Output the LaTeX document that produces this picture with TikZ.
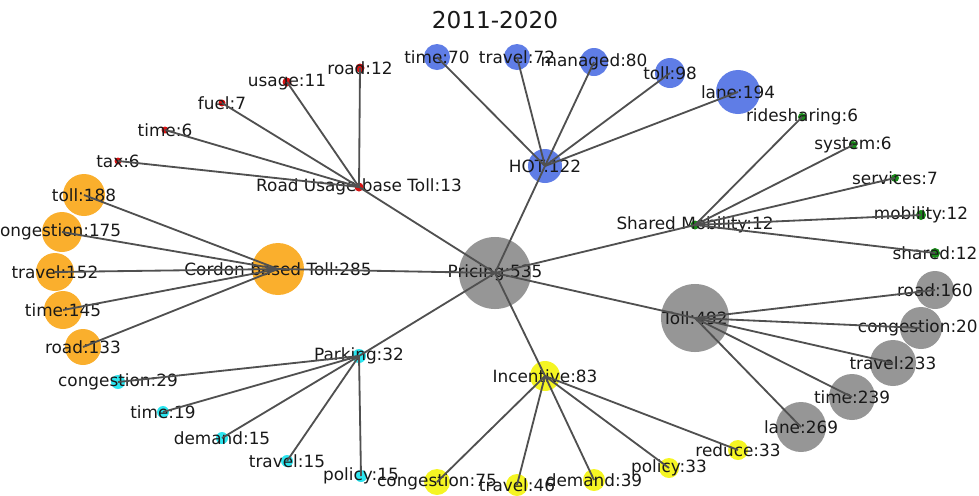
\documentclass[tikz,border=0pt]{standalone}
\usepackage{fontspec}
\setmainfont{DejaVu Sans}
\usepackage{tikz}
\usetikzlibrary{positioning}

\definecolor{hotblue}{RGB}{95,125,230}
\definecolor{cordonorange}{RGB}{250,175,45}
\definecolor{tollgray}{RGB}{150,150,150}
\definecolor{parkcyan}{RGB}{45,230,240}
\definecolor{incyellow}{RGB}{245,245,35}
\definecolor{sharegreen}{RGB}{25,140,25}
\definecolor{roadred}{RGB}{215,20,20}
\definecolor{edgegray}{RGB}{80,80,80}

\begin{document}
\begin{tikzpicture}[
        x=0.025cm, y=-0.025cm,
        term/.style={circle, inner sep=0pt, draw=none, fill=#1},
        rad/.style={minimum size=#1*0.05cm},
        lbl/.style={font=\fontsize{12}{14}\selectfont, text=black!90, inner sep=0pt},
        link/.style={draw=edgegray, line width=1.3pt}
    ]
        \useasboundingbox (0,0) rectangle (979,495);
        \clip (0,0) rectangle (979,495);

        \node[font=\fontsize{16.5}{19}\selectfont, text=black!90] (title) at (495,20) {2011-2020};

        % hubs
        \node[term=tollgray, rad=36, label={[lbl]center:{Pricing:535}}] (pricing) at (495,273) {};
        \node[term=cordonorange, rad=26, label={[lbl]center:{Cordon based Toll:285}}] (cordon) at (278,269) {};
        \node[term=roadred, rad=4.5, label={[lbl]center:{Road Usage base Toll:13}}] (usagebase) at (359,187) {};
        \node[term=hotblue, rad=17, label={[lbl]center:{HOT:122}}] (hot) at (545,166) {};
        \node[term=sharegreen, rad=4.5, label={[lbl]center:{Shared Mobility:12}}] (shared) at (695,225) {};
        \node[term=tollgray, rad=34, label={[lbl]center:{Toll:492}}] (toll) at (695,318) {};
        \node[term=parkcyan, rad=7, label={[lbl]center:{Parking:32}}] (parking) at (359,356) {};
        \node[term=incyellow, rad=15, label={[lbl]center:{Incentive:83}}] (incentive) at (545,376) {};

        % road usage terms
        \node[term=roadred, rad=4.5, label={[lbl]center:{road:12}}] (ru-road) at (360,68) {};
        \node[term=roadred, rad=4.5, label={[lbl]center:{usage:11}}] (ru-usage) at (287,82) {};
        \node[term=roadred, rad=3.5, label={[lbl]center:{fuel:7}}] (ru-fuel) at (222,103) {};
        \node[term=roadred, rad=3.5, label={[lbl]center:{time:6}}] (ru-time) at (165,130) {};
        \node[term=roadred, rad=3.5, label={[lbl]center:{tax:6}}] (ru-tax) at (118,161) {};

        % cordon terms
        \node[term=cordonorange, rad=21, label={[lbl]center:{toll:188}}] (co-toll) at (84,195) {};
        \node[term=cordonorange, rad=20, label={[lbl, xshift=-0.15cm]center:{congestion:175}}] (co-cong) at (62,232) {};
        \node[term=cordonorange, rad=19, label={[lbl]center:{travel:152}}] (co-travel) at (55,272) {};
        \node[term=cordonorange, rad=19, label={[lbl]center:{time:145}}] (co-time) at (63,310) {};
        \node[term=cordonorange, rad=18, label={[lbl]center:{road:133}}] (co-road) at (83,347) {};

        % HOT terms
        \node[term=hotblue, rad=13, label={[lbl]center:{time:70}}] (hot-time) at (437,57) {};
        \node[term=hotblue, rad=13, label={[lbl]center:{travel:72}}] (hot-travel) at (517,57) {};
        \node[term=hotblue, rad=14, label={[lbl]center:{managed:80}}] (hot-managed) at (594,62) {};
        \node[term=hotblue, rad=15, label={[lbl]center:{toll:98}}] (hot-toll) at (670,73) {};
        \node[term=hotblue, rad=22, label={[lbl]center:{lane:194}}] (hot-lane) at (738,92) {};

        % shared mobility terms
        \node[term=sharegreen, rad=4, label={[lbl]center:{ridesharing:6}}] (sm-ride) at (802,117) {};
        \node[term=sharegreen, rad=4, label={[lbl]center:{system:6}}] (sm-system) at (853,145) {};
        \node[term=sharegreen, rad=4, label={[lbl]center:{services:7}}] (sm-services) at (895,178) {};
        \node[term=sharegreen, rad=5, label={[lbl]center:{mobility:12}}] (sm-mobility) at (921,215) {};
        \node[term=sharegreen, rad=5, label={[lbl]center:{shared:12}}] (sm-shared) at (935,253) {};

        % toll terms
        \node[term=tollgray, rad=19, label={[lbl]center:{road:160}}] (to-road) at (935,290) {};
        \node[term=tollgray, rad=21, label={[lbl, xshift=-0.08cm]center:{congestion:20}}] (to-cong) at (921,328) {};
        \node[term=tollgray, rad=23, label={[lbl]center:{travel:233}}] (to-travel) at (893,363) {};
        \node[term=tollgray, rad=23, label={[lbl]center:{time:239}}] (to-time) at (852,397) {};
        \node[term=tollgray, rad=25, label={[lbl]center:{lane:269}}] (to-lane) at (801,427) {};

        % parking terms
        \node[term=parkcyan, rad=7, label={[lbl]center:{congestion:29}}] (pa-cong) at (118,382) {};
        \node[term=parkcyan, rad=6, label={[lbl]center:{time:19}}] (pa-time) at (163,412) {};
        \node[term=parkcyan, rad=6, label={[lbl]center:{demand:15}}] (pa-demand) at (222,438) {};
        \node[term=parkcyan, rad=6, label={[lbl]center:{travel:15}}] (pa-travel) at (287,461) {};
        \node[term=parkcyan, rad=6, label={[lbl]center:{policy:15}}] (pa-policy) at (361,476) {};

        % incentive terms
        \node[term=incyellow, rad=13, label={[lbl]center:{congestion:75}}] (in-cong) at (437,482) {};
        \node[term=incyellow, rad=11, label={[lbl]center:{travel:46}}] (in-travel) at (517,485) {};
        \node[term=incyellow, rad=11, label={[lbl]center:{demand:39}}] (in-demand) at (594,480) {};
        \node[term=incyellow, rad=10, label={[lbl]center:{policy:33}}] (in-policy) at (669,468) {};
        \node[term=incyellow, rad=10, label={[lbl]center:{reduce:33}}] (in-reduce) at (738,450) {};

        % edges
        \draw[link] (pricing.center) -- (cordon.center);
        \draw[link] (pricing.center) -- (usagebase.center);
        \draw[link] (pricing.center) -- (hot.center);
        \draw[link] (pricing.center) -- (shared.center);
        \draw[link] (pricing.center) -- (toll.center);
        \draw[link] (pricing.center) -- (parking.center);
        \draw[link] (pricing.center) -- (incentive.center);

        \draw[link] (usagebase.center) -- (ru-road.center);
        \draw[link] (usagebase.center) -- (ru-usage.center);
        \draw[link] (usagebase.center) -- (ru-fuel.center);
        \draw[link] (usagebase.center) -- (ru-time.center);
        \draw[link] (usagebase.center) -- (ru-tax.center);

        \draw[link] (cordon.center) -- (co-toll.center);
        \draw[link] (cordon.center) -- (co-cong.center);
        \draw[link] (cordon.center) -- (co-travel.center);
        \draw[link] (cordon.center) -- (co-time.center);
        \draw[link] (cordon.center) -- (co-road.center);

        \draw[link] (hot.center) -- (hot-time.center);
        \draw[link] (hot.center) -- (hot-travel.center);
        \draw[link] (hot.center) -- (hot-managed.center);
        \draw[link] (hot.center) -- (hot-toll.center);
        \draw[link] (hot.center) -- (hot-lane.center);

        \draw[link] (shared.center) -- (sm-ride.center);
        \draw[link] (shared.center) -- (sm-system.center);
        \draw[link] (shared.center) -- (sm-services.center);
        \draw[link] (shared.center) -- (sm-mobility.center);
        \draw[link] (shared.center) -- (sm-shared.center);

        \draw[link] (toll.center) -- (to-road.center);
        \draw[link] (toll.center) -- (to-cong.center);
        \draw[link] (toll.center) -- (to-travel.center);
        \draw[link] (toll.center) -- (to-time.center);
        \draw[link] (toll.center) -- (to-lane.center);

        \draw[link] (parking.center) -- (pa-cong.center);
        \draw[link] (parking.center) -- (pa-time.center);
        \draw[link] (parking.center) -- (pa-demand.center);
        \draw[link] (parking.center) -- (pa-travel.center);
        \draw[link] (parking.center) -- (pa-policy.center);

        \draw[link] (incentive.center) -- (in-cong.center);
        \draw[link] (incentive.center) -- (in-travel.center);
        \draw[link] (incentive.center) -- (in-demand.center);
        \draw[link] (incentive.center) -- (in-policy.center);
        \draw[link] (incentive.center) -- (in-reduce.center);
    \end{tikzpicture}
\end{document}
